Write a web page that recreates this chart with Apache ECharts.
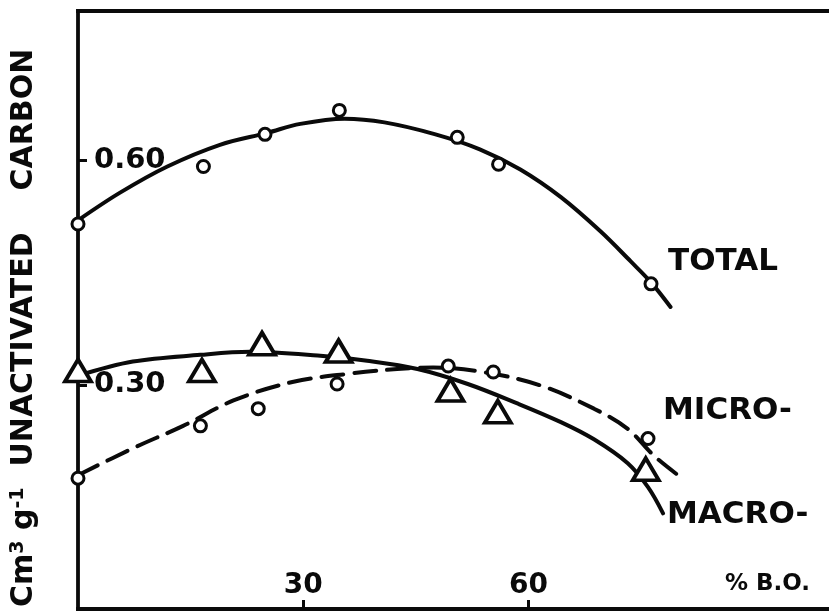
<!DOCTYPE html>
<html>
<head>
<meta charset="utf-8">
<script src="https://cdn.jsdelivr.net/npm/echarts@6/dist/echarts.min.js"></script>
<style>
  html, body { margin: 0; padding: 0; background: #fff; }
  #chart { width: 829px; height: 614px; }
</style>
</head>
<body>
<div id="chart"></div>
<script>
// Measured points: % burn-off (x) against pore volume, cm3 per g of unactivated carbon (y)
const totalX = [0, 16.7, 24.9, 34.8, 50.5, 56.0, 76.3];
const totalY = [0.515, 0.592, 0.635, 0.667, 0.631, 0.595, 0.435];
const macroX = [0, 16.5, 24.5, 34.7, 49.6, 55.9, 75.6];
const macroY = [0.319, 0.319, 0.355, 0.345, 0.293, 0.264, 0.187];
const microX = [0, 16.3, 24.0, 34.5, 49.3, 55.3, 75.9];
const microY = [0.175, 0.245, 0.268, 0.301, 0.325, 0.317, 0.228];

// Hand-fitted curves through each set of points
const totalFitX = [0, 5.6, 11.9, 18.9, 25.2, 29.6, 35.5, 40.8, 47.6, 53.5, 58.9, 64.3, 69.6, 73.6, 76.3, 78.9];
const totalFitY = [0.520, 0.557, 0.592, 0.621, 0.637, 0.649, 0.656, 0.651, 0.635, 0.615, 0.588, 0.551, 0.505, 0.465, 0.437, 0.404];
const macroFitX = [0, 7.3, 16.3, 22.9, 31.9, 38.5, 45.2, 51.9, 58.5, 64.3, 68.7, 73.2, 75.9, 77.9];
const macroFitY = [0.312, 0.331, 0.340, 0.344, 0.339, 0.332, 0.321, 0.301, 0.275, 0.250, 0.227, 0.195, 0.163, 0.128];
const microFitX = [0, 7.3, 14.0, 20.7, 28.7, 36.3, 42.5, 47.3, 54.0, 61.6, 68.7, 73.2, 76.7, 79.9];
const microFitY = [0.179, 0.215, 0.245, 0.279, 0.304, 0.315, 0.321, 0.323, 0.317, 0.299, 0.268, 0.241, 0.205, 0.179];

// Axis ticks and curve names
const xTicks = [30, 60];
const yTicks = [0.30, 0.60];
const curveNames = ['TOTAL', 'MICRO-', 'MACRO-'];

const zip = (xs, ys) => xs.map((x, i) => [x, ys[i]]);

const FONT = '"DejaVu Sans", "Liberation Sans", sans-serif';
const INK = '#0a0a0a';

const lineSeries = (name, xs, ys, dashed) => ({
  name: name,
  type: 'line',
  data: zip(xs, ys),
  smooth: 0.35,
  showSymbol: false,
  clip: false,
  z: 2,
  lineStyle: { color: INK, width: 4, type: dashed ? [22, 11] : 'solid', cap: 'round' }
});

const pointSeries = (name, xs, ys, symbol, size, bw) => ({
  name: name,
  type: 'scatter',
  data: zip(xs, ys),
  symbol: symbol,
  symbolSize: size,
  clip: false,
  z: 3,
  itemStyle: { color: '#fff', borderColor: INK, borderWidth: bw, opacity: 1 }
});

const chart = echarts.init(document.getElementById('chart'), null, { renderer: 'canvas' });

const axisLine = { show: true, lineStyle: { color: INK, width: 3.8, cap: 'square' } };

chart.setOption({
  animation: false,
  backgroundColor: '#fff',
  grid: { left: 78, right: 0, top: 11, bottom: 5 },
  xAxis: [
    {
      type: 'value',
      position: 'bottom',
      min: 0,
      max: 100,
      axisLine: axisLine,
      splitLine: { show: false },
      axisTick: { show: true, inside: true, length: 9, customValues: xTicks,
                  lineStyle: { color: INK, width: 3 } },
      axisLabel: { show: true, inside: true, margin: 9, customValues: xTicks,
                   color: INK, fontFamily: FONT, fontWeight: 'bold', fontSize: 28 },
      name: '% B.O.',
      nameLocation: 'end',
      nameGap: -104,
      nameTextStyle: { color: INK, fontFamily: FONT, fontWeight: 'bold', fontSize: 23,
                       align: 'left', verticalAlign: 'bottom', padding: [0, 0, 13, 0] }
    },
    {
      type: 'value',
      position: 'top',
      min: 0,
      max: 100,
      axisLine: axisLine,
      splitLine: { show: false },
      axisTick: { show: false },
      axisLabel: { show: false }
    }
  ],
  yAxis: {
    type: 'value',
    min: 0,
    max: 0.8,
    axisLine: axisLine,
    splitLine: { show: false },
    axisTick: { show: true, inside: true, length: 9, customValues: yTicks,
                lineStyle: { color: INK, width: 3 } },
    axisLabel: { show: true, inside: true, margin: 16, customValues: yTicks,
                 formatter: v => v.toFixed(2), padding: [8, 0, 0, 0],
                 color: INK, fontFamily: FONT, fontWeight: 'bold', fontSize: 29 }
  },
  series: [
    lineSeries('TOTAL fit', totalFitX, totalFitY, false),
    lineSeries('MACRO fit', macroFitX, macroFitY, false),
    lineSeries('MICRO fit', microFitX, microFitY, true),
    pointSeries('TOTAL', totalX, totalY, 'circle', 12, 3),
    pointSeries('MICRO', microX, microY, 'circle', 12, 3),
    pointSeries('MACRO', macroX, macroY, 'triangle', [26, 22], 3.8)
  ],
  graphic: [
    {
      type: 'text',
      x: 9, y: 607,
      rotation: Math.PI / 2,
      style: {
        text: '{m|Cm}{s|3}{m| g}{s|-1}{m|  UNACTIVATED    CARBON}',
        align: 'left',
        verticalAlign: 'top',
        fill: INK,
        rich: {
          m: { fontFamily: FONT, fontWeight: 'bold', fontSize: 30, lineHeight: 30,
               verticalAlign: 'bottom', fill: INK },
          s: { fontFamily: FONT, fontWeight: 'bold', fontSize: 19, lineHeight: 20,
               padding: [0, 0, 33, 0], verticalAlign: 'top', fill: INK }
        }
      }
    },
    { type: 'text', x: 668, y: 262,
      style: { text: curveNames[0], fill: INK, font: 'bold 31px ' + FONT, verticalAlign: 'middle' } },
    { type: 'text', x: 663, y: 411,
      style: { text: curveNames[1], fill: INK, font: 'bold 31px ' + FONT, verticalAlign: 'middle' } },
    { type: 'text', x: 667, y: 515,
      style: { text: curveNames[2], fill: INK, font: 'bold 31px ' + FONT, verticalAlign: 'middle' } }
  ]
});
</script>
</body>
</html>
